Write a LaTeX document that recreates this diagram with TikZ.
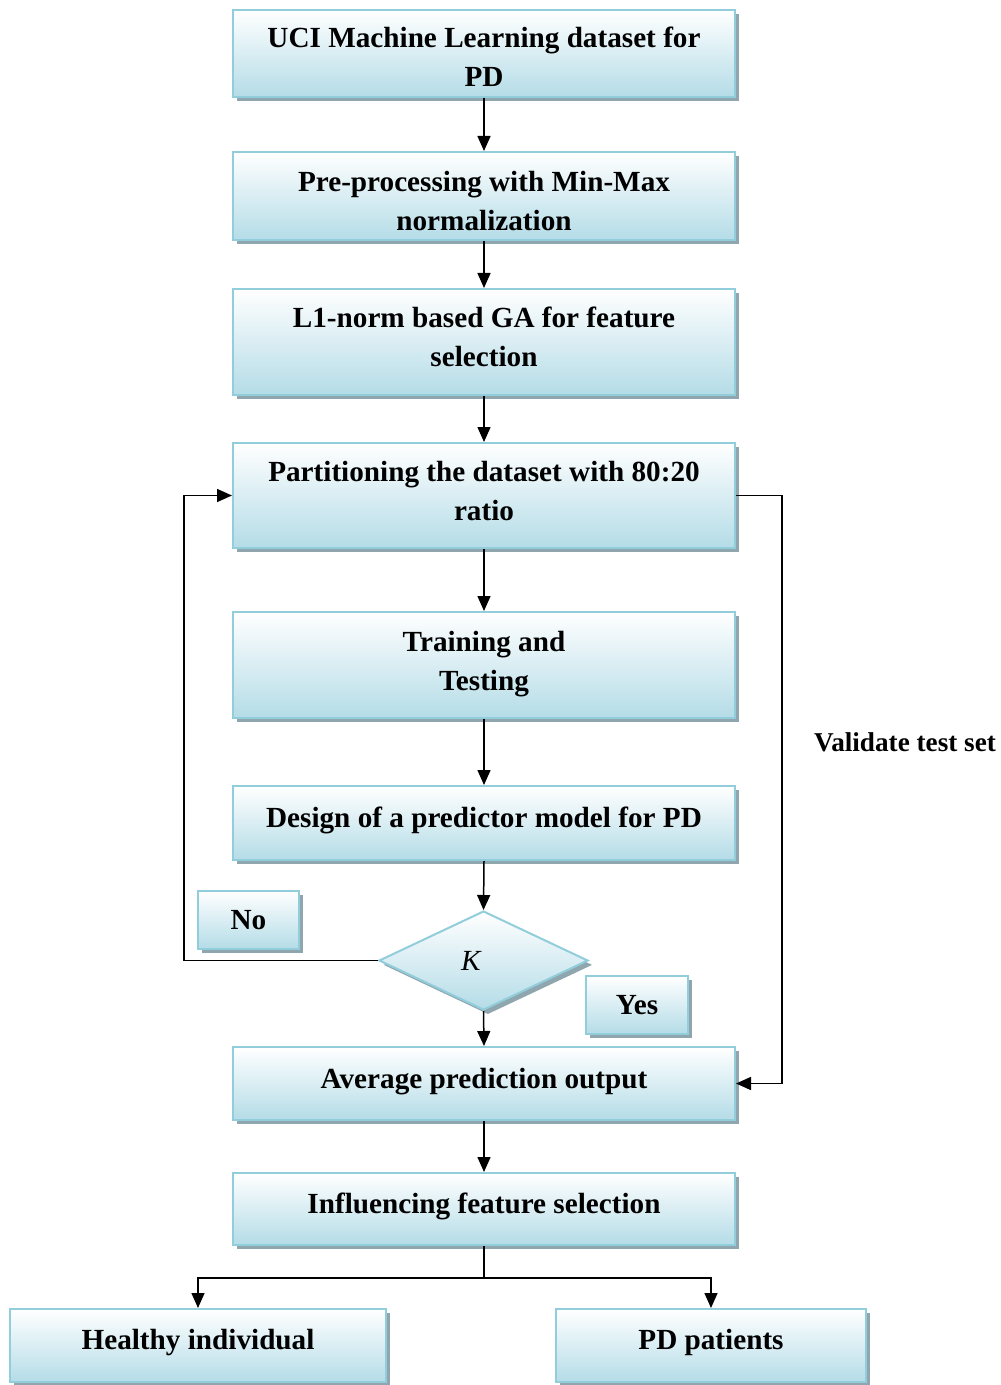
\documentclass[tikz,border=0pt]{standalone}
\usepackage{fontspec}
\setmainfont{Liberation Serif}
\usetikzlibrary{shapes.geometric,shadows,arrows.meta,calc}
\definecolor{boxblue}{HTML}{B4DCE7}
\definecolor{edgeblue}{HTML}{92CDDC}
\definecolor{shadowc}{HTML}{8FA6AE}
\tikzset{
  stepbox/.style={rectangle, draw=edgeblue, line width=1pt, top color=white, bottom color=boxblue,
    drop shadow={shadow xshift=2.2pt, shadow yshift=-2.2pt, fill=shadowc, opacity=1},
    align=center, inner sep=2pt, font=\fontsize{14.6}{19.5}\selectfont\bfseries},
  tpos/.style={text height=10pt, text depth=#1},
  tpostwo/.style={text height=35pt, text depth=#1},
  decision/.style={diamond, draw=edgeblue, line width=1pt, top color=white, bottom color=boxblue,
    drop shadow={shadow xshift=2.2pt, shadow yshift=-2.2pt, fill=shadowc, opacity=1},
    inner sep=0pt, minimum width=104.5pt, minimum height=49.5pt, aspect=2.1,
    font=\fontsize{14.6}{19}\selectfont},
  arr/.style={line width=0.75pt, -{Triangle[length=7.5pt,width=6.5pt]}},
  ln/.style={line width=0.75pt},
  plain/.style={font=\fontsize{13.6}{17}\selectfont\bfseries, inner sep=0pt}
}
\begin{document}
\begin{tikzpicture}[x=0.5pt,y=-0.5pt]
\useasboundingbox (0,0) rectangle (1000,1385);
\node[stepbox, tpostwo=1.8pt, minimum width=251pt, minimum height=43.5pt] (uci) at (484,53.5) {UCI Machine Learning dataset for\\PD};
\node[stepbox, tpostwo=0.8pt, minimum width=251pt, minimum height=44pt] (pre) at (484,196) {Pre-processing with Min-Max\\normalization};
\node[stepbox, tpostwo=10.8pt, minimum width=251pt, minimum height=53pt] (l1) at (484,342) {L1-norm based GA for feature\\selection};
\node[stepbox, tpostwo=10.3pt, minimum width=251pt, minimum height=52.5pt] (part) at (484,495.5) {Partitioning the dataset with 80:20\\ratio};
\node[stepbox, tpostwo=9.8pt, minimum width=251pt, minimum height=53pt] (train) at (484,665) {Training and\\Testing};
\node[stepbox, tpos=5.8pt, minimum width=251pt, minimum height=37pt] (design) at (484,823) {Design of a predictor model for PD};
\node[stepbox, tpos=0.3pt, minimum width=50.5pt, minimum height=29pt] (no) at (248.5,920) {No};
\node[decision] (dia) at (483.5,960.5) {\textit{K}\kern12pt};
\node[stepbox, tpos=0.3pt, minimum width=51pt, minimum height=29pt] (yes) at (637,1005) {Yes};
\node[stepbox, tpos=4.55pt, minimum width=251pt, minimum height=36.5pt] (avg) at (484,1083.5) {Average prediction output};
\node[stepbox, tpos=5.3pt, minimum width=251pt, minimum height=36pt] (infl) at (484,1209) {Influencing feature selection};
\node[stepbox, tpos=5.55pt, minimum width=188pt, minimum height=36.5pt] (healthy) at (198,1345.5) {Healthy individual};
\node[stepbox, tpos=5.55pt, minimum width=155pt, minimum height=36.5pt] (pd) at (711,1345.5) {PD patients};
\node[plain] (val) at (905,742) {Validate test set};

\draw[arr] (uci.south) -- (pre.north);
\draw[arr] (pre.south) -- (l1.north);
\draw[arr] (l1.south) -- (part.north);
\draw[arr] (part.south) -- (train.north);
\draw[arr] (train.south) -- (design.north);
\draw[arr] (design.south) -- (dia.north);
\draw[arr] (dia.south) -- (avg.north);
\draw[arr] (avg.south) -- (infl.north);
\draw[arr] (dia.west) -| ([xshift=-24pt]part.west) -- (part.west);
\draw[arr] (part.east) -| ([xshift=23pt]avg.east) -- (avg.east);
\draw[ln] (infl.south) -- ++(0,32) coordinate (sp);
\draw[arr] (sp) -| (healthy.north);
\draw[arr] (sp) -| (pd.north);
\end{tikzpicture}
\end{document}
